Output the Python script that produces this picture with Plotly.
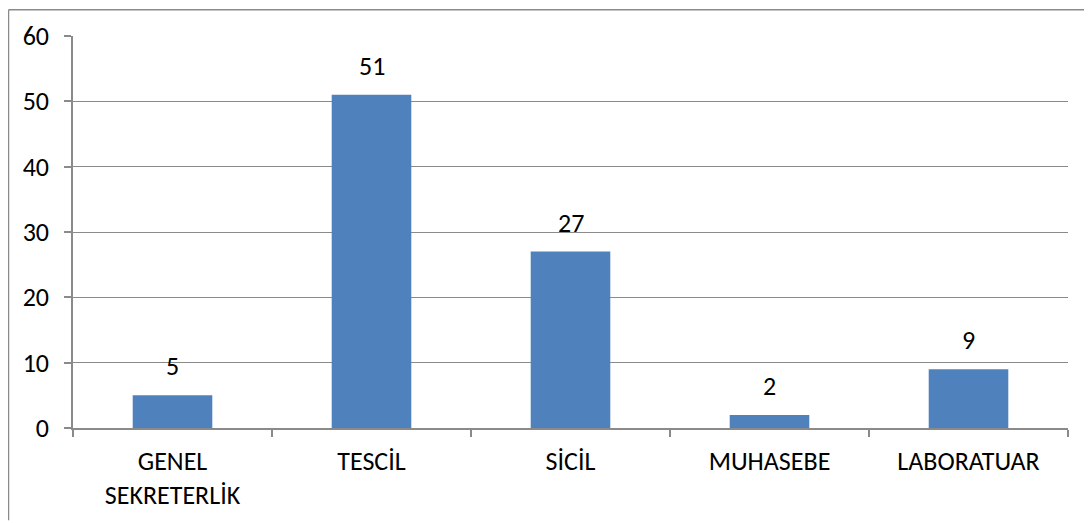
import plotly.graph_objects as go

# birim basina sayilar
categories = ['GENEL<br>SEKRETERLİK', 'TESCİL', 'SİCİL', 'MUHASEBE', 'LABORATUAR']
values = [5, 51, 27, 2, 9]
y_ticks = [0, 10, 20, 30, 40, 50, 60]

font_family = 'Carlito, Calibri, Lato, sans-serif'
grid_col = '#8a8a8a'

fig = go.Figure()
fig.add_trace(go.Bar(
    x=categories,
    y=values,
    marker=dict(color='#4F81BD', line=dict(width=0)),
    width=0.4,
    hoverinfo='skip',
))

# data labels sit well above the bars like in excel
for cat, val in zip(categories, values):
    fig.add_annotation(x=cat, y=val, text=str(val), showarrow=False,
                       yshift=29, font=dict(size=26, color='#000000', family=font_family))

# page body has an 8px margin, so the figure is a bit smaller
fig.update_layout(
    width=1084,
    height=515,
    margin=dict(l=65, r=24, t=27, b=93),
    paper_bgcolor='white',
    plot_bgcolor='white',
    showlegend=False,
    font=dict(family=font_family, size=26, color='#000000'),
    bargap=0.6,
)
fig.update_xaxes(
    showline=True, linecolor=grid_col, linewidth=1.5,
    ticks='outside', ticklen=7, tickcolor=grid_col, tickwidth=1.5,
    tickson='boundaries', showgrid=False,
    tickfont=dict(size=26), ticklabelstandoff=9,
)
fig.update_yaxes(
    range=[0, 60], tickvals=y_ticks,
    showline=True, linecolor=grid_col, linewidth=1.5,
    ticks='outside', ticklen=7, tickcolor=grid_col, tickwidth=1.5,
    showgrid=True, gridcolor=grid_col, gridwidth=1.2,
    zeroline=False, tickfont=dict(size=26), ticklabelstandoff=10,
)
# chart border (left and top edge only, the rest is cut off)
fig.add_shape(type='line', xref='paper', yref='paper',
              x0=-64.5 / 995, x1=-64.5 / 995, y0=-93 / 395, y1=1 + 26.5 / 395,
              line=dict(color=grid_col, width=1.5))
fig.add_shape(type='line', xref='paper', yref='paper',
              x0=-64.5 / 995, x1=1 + 24 / 995, y0=1 + 26.5 / 395, y1=1 + 26.5 / 395,
              line=dict(color=grid_col, width=1.5))

fig.write_html('out.html')
